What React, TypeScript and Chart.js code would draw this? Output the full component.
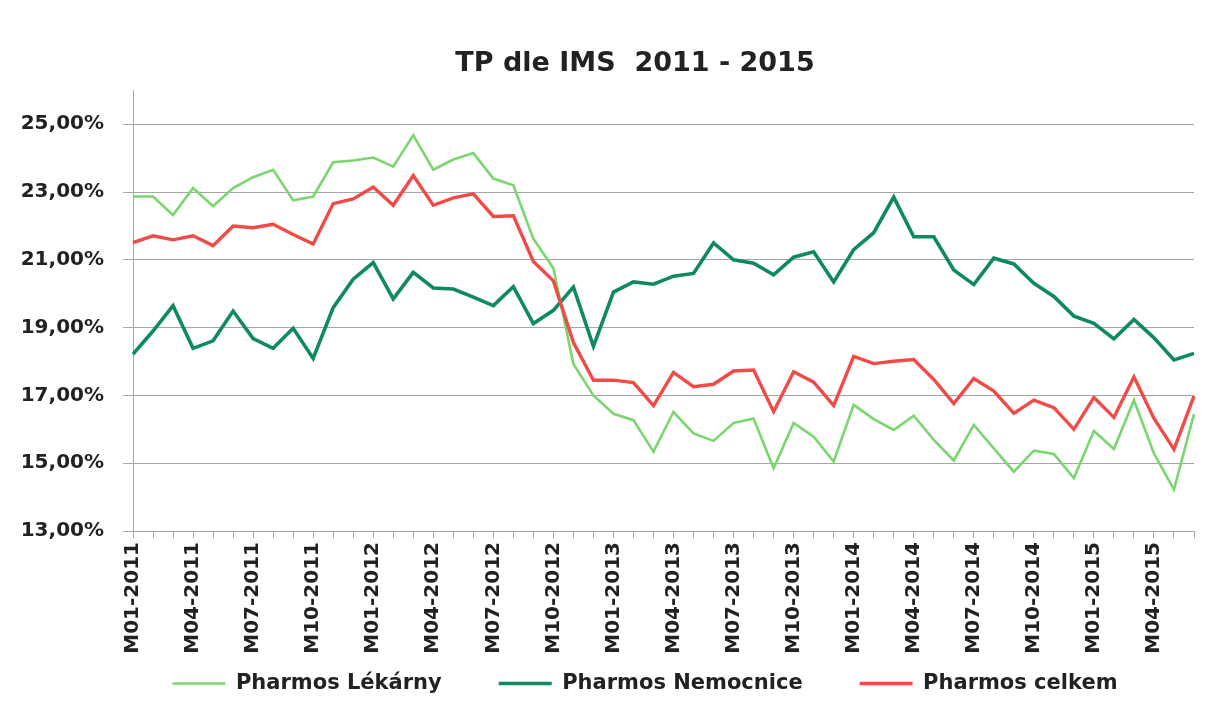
import React, { useEffect, useRef } from "react";
import { Chart, registerables } from "chart.js";

Chart.register(...registerables);

const categories = [
  "M01-2011","M02-2011","M03-2011","M04-2011","M05-2011","M06-2011","M07-2011","M08-2011","M09-2011","M10-2011","M11-2011","M12-2011",
  "M01-2012","M02-2012","M03-2012","M04-2012","M05-2012","M06-2012","M07-2012","M08-2012","M09-2012","M10-2012","M11-2012","M12-2012",
  "M01-2013","M02-2013","M03-2013","M04-2013","M05-2013","M06-2013","M07-2013","M08-2013","M09-2013","M10-2013","M11-2013","M12-2013",
  "M01-2014","M02-2014","M03-2014","M04-2014","M05-2014","M06-2014","M07-2014","M08-2014","M09-2014","M10-2014","M11-2014","M12-2014",
  "M01-2015","M02-2015","M03-2015","M04-2015","M05-2015","M06-2015",
];

const lekarny = [
  22.87, 22.87, 22.32, 23.12, 22.58, 23.12, 23.44, 23.66, 22.76, 22.87, 23.88, 23.93,
  24.02, 23.75, 24.68, 23.66, 23.96, 24.15, 23.4, 23.2, 21.62, 20.75, 17.93, 17.0,
  16.46, 16.27, 15.34, 16.51, 15.88, 15.66, 16.19, 16.32, 14.85, 16.19, 15.78, 15.05,
  16.72, 16.3, 15.98, 16.4, 15.69, 15.08, 16.13, 15.44, 14.75, 15.37, 15.27, 14.56,
  15.95, 15.42, 16.86, 15.29, 14.22, 16.45,
];

const nemocnice = [
  18.22, 18.9, 19.65, 18.39, 18.61, 19.49, 18.68, 18.39, 18.98, 18.09, 19.59, 20.43,
  20.92, 19.85, 20.63, 20.17, 20.14, 19.9, 19.65, 20.21, 19.12, 19.51, 20.2, 18.45,
  20.05, 20.35, 20.28, 20.52, 20.6, 21.5, 21.0, 20.9, 20.56, 21.08, 21.24, 20.35,
  21.3, 21.8, 22.85, 21.68, 21.68, 20.7, 20.27, 21.05, 20.88, 20.31, 19.92, 19.34,
  19.13, 18.67, 19.24, 18.7, 18.05, 18.24,
];

const celkem = [
  21.51, 21.71, 21.59, 21.71, 21.42, 22.0, 21.95, 22.05, 21.75, 21.47, 22.66, 22.8,
  23.15, 22.61, 23.49, 22.61, 22.83, 22.95, 22.28, 22.3, 20.95, 20.38, 18.56, 17.45,
  17.45, 17.38, 16.7, 17.68, 17.26, 17.33, 17.72, 17.75, 16.52, 17.7, 17.39, 16.7,
  18.15, 17.94, 18.01, 18.06, 17.47, 16.76, 17.5, 17.13, 16.47, 16.86, 16.64, 16.0,
  16.94, 16.35, 17.55, 16.32, 15.41, 16.98,
];

const yTickValues = [13, 15, 17, 19, 21, 23, 25];

const seriesNames = ["Pharmos Lékárny", "Pharmos Nemocnice", "Pharmos celkem"];
const titleText = "TP dle IMS  2011 - 2015";

const FONT = "'DejaVu Sans', sans-serif";
const TEXT = "#222222";
const GRID = "#a6a6a6";

export default function App() {
  const ref = useRef<HTMLCanvasElement | null>(null);

  useEffect(() => {
    if (!ref.current) return;
    const adjust = {
      id: "adjust",
      afterLayout(chart: any) {
        if (chart.legend) {
          chart.legend.left += 48;
          chart.legend.right += 48;
        }
        if (chart.titleBlock) {
          chart.titleBlock.left += 38;
          chart.titleBlock.right += 38;
        }
        if (chart.scales && chart.scales.x) {
          chart.scales.x.bottom = chart.height;
        }
      },
    };
    const chart = new Chart(ref.current, {
      type: "line",
      data: {
        labels: categories,
        datasets: [
          {
            label: seriesNames[0],
            data: lekarny,
            borderColor: "#7ad66e",
            backgroundColor: "#7ad66e",
            borderWidth: 2.6,
            pointRadius: 0,
            pointStyle: "line",
            tension: 0,
            order: 3,
          },
          {
            label: seriesNames[1],
            data: nemocnice,
            borderColor: "#0f8a5f",
            backgroundColor: "#0f8a5f",
            borderWidth: 3.6,
            pointRadius: 0,
            pointStyle: "line",
            tension: 0,
            order: 2,
          },
          {
            label: seriesNames[2],
            data: celkem,
            borderColor: "#f04b47",
            backgroundColor: "#f04b47",
            borderWidth: 3.4,
            pointRadius: 0,
            pointStyle: "line",
            tension: 0,
            order: 1,
          },
        ],
      },
      options: {
        responsive: false,
        animation: false,
        layout: { padding: { left: 0, right: 13, top: 0, bottom: 1 } },
        plugins: {
          title: {
            display: true,
            text: titleText,
            color: TEXT,
            font: { family: FONT, size: 27, weight: "bold" },
            padding: { top: 48, bottom: 10 },
          },
          legend: {
            position: "bottom",
            labels: {
              usePointStyle: true,
              pointStyle: "line",
              pointStyleWidth: 53,
              padding: 57,
              color: TEXT,
              font: { family: FONT, size: 21, weight: "bold" },
              sort: (a: any, b: any) => a.datasetIndex - b.datasetIndex,
            },
          },
          tooltip: { enabled: false },
        },
        scales: {
          x: {
            type: "category",
            offset: false,
            afterFit(scale: any) {
              scale.height = 85;
              scale.paddingLeft = 0;
              scale.paddingRight = 0;
            },
            grid: {
              drawOnChartArea: false,
              drawTicks: true,
              tickLength: 7,
              color: GRID,
            },
            border: { display: true, color: GRID, width: 1 },
            ticks: {
              autoSkip: false,
              maxRotation: 90,
              minRotation: 90,
              padding: 4,
              color: TEXT,
              font: { family: FONT, size: 20, weight: "bold" },
              callback: (_v: any, i: number) => (i % 3 === 0 ? categories[i] : ""),
            },
          },
          y: {
            min: 13,
            max: 26,
            afterFit(scale: any) {
              scale.width = 133;
            },
            afterBuildTicks(scale: any) {
              scale.ticks = yTickValues.map((v) => ({ value: v }));
            },
            grid: {
              color: GRID,
              lineWidth: 1,
              tickLength: 10,
            },
            border: { display: true, color: GRID, width: 1 },
            ticks: {
              stepSize: 2,
              padding: 19,
              color: TEXT,
              font: { family: FONT, size: 20, weight: "bold" },
              callback: (v: any) => Number(v).toFixed(2).replace(".", ",") + "%",
            },
          },
        },
      },
      plugins: [adjust],
    });
    return () => chart.destroy();
  }, []);

  return (
    <div style={{ position: "fixed", left: 0, top: 0, width: 1207, height: 705, background: "#fff" }}>
      <canvas ref={ref} width={1207} height={705} style={{ display: "block" }} />
    </div>
  );
}
